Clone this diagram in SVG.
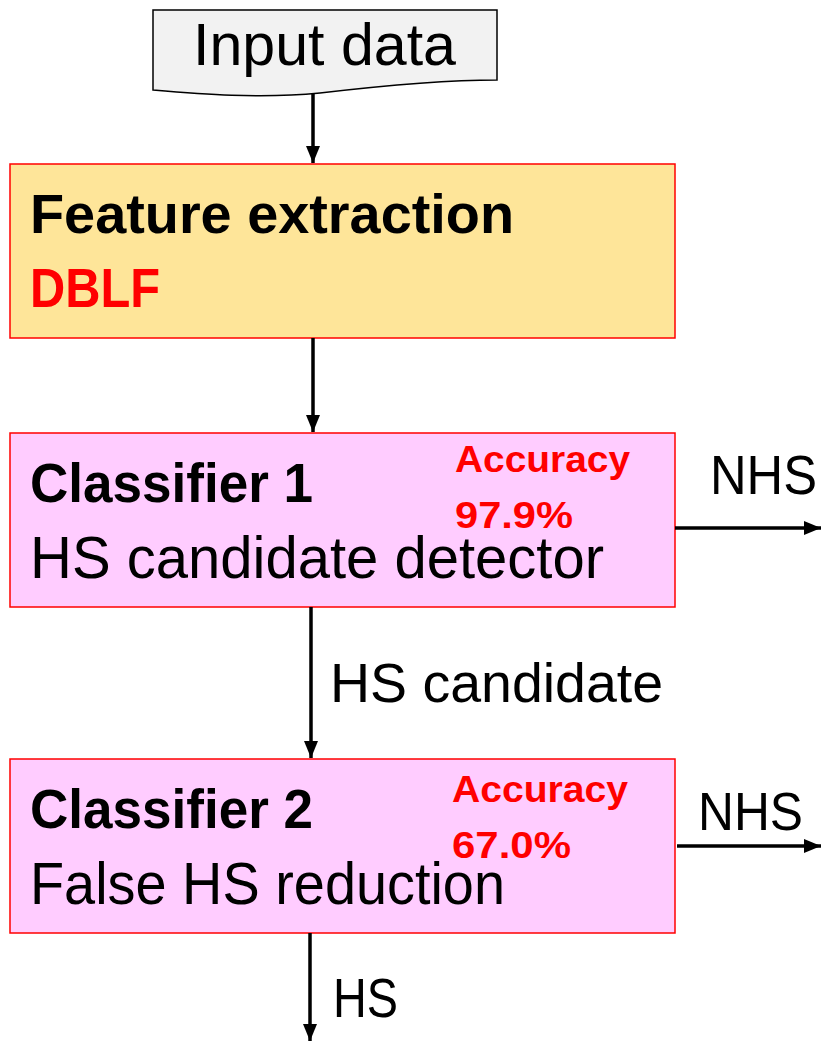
<svg xmlns="http://www.w3.org/2000/svg" width="821" height="1041" viewBox="0 0 821 1041">
<style>
.t{font-family:"Liberation Sans",Arial,sans-serif;fill:#000}
.b{font-weight:bold}
.red{fill:#ff0000}
.box{stroke:#ff0000;stroke-width:1.5}
.ln{stroke:#000;stroke-width:3.5;fill:none}
</style>
<defs>
<marker id="ah" markerWidth="18" markerHeight="16" refX="17" refY="8" orient="auto" markerUnits="userSpaceOnUse">
<path d="M0,1 L17,8 L0,15 Z" fill="#000"/>
</marker>
</defs>
<rect width="821" height="1041" fill="#fff"/>
<g id="input">
<path d="M153,10 L497,10 L497,80 C440,80 380,86 320,93 C260,99 200,94 153,90 Z" fill="#f2f2f2" stroke="#000" stroke-width="1.5"/>
<text class="t" x="193" y="65" font-size="59" textLength="263" lengthAdjust="spacingAndGlyphs">Input data</text>
</g>
<g id="feature">
<rect class="box" x="10" y="164" width="665" height="174" fill="#fee599"/>
<text class="t b" x="30" y="233" font-size="56" textLength="484" lengthAdjust="spacingAndGlyphs">Feature extraction</text>
<text class="t b red" x="30" y="307" font-size="56" textLength="130" lengthAdjust="spacingAndGlyphs">DBLF</text>
</g>
<g id="classifier1">
<rect class="box" x="10" y="433" width="665" height="174" fill="#ffccff"/>
<text class="t b" x="30" y="502" font-size="56" textLength="283" lengthAdjust="spacingAndGlyphs">Classifier 1</text>
<text class="t" x="30" y="578" font-size="59" textLength="574" lengthAdjust="spacingAndGlyphs">HS candidate detector</text>
<text class="t b red" x="455" y="472" font-size="37" textLength="175" lengthAdjust="spacingAndGlyphs">Accuracy</text>
<text class="t b red" x="455" y="528" font-size="37" textLength="118" lengthAdjust="spacingAndGlyphs">97.9%</text>
</g>
<g id="classifier2">
<rect class="box" x="10" y="759" width="665" height="174" fill="#ffccff"/>
<text class="t b" x="30" y="828" font-size="56" textLength="283" lengthAdjust="spacingAndGlyphs">Classifier 2</text>
<text class="t" x="30" y="904" font-size="59" textLength="475" lengthAdjust="spacingAndGlyphs">False HS reduction</text>
<text class="t b red" x="452" y="802" font-size="37" textLength="176" lengthAdjust="spacingAndGlyphs">Accuracy</text>
<text class="t b red" x="452" y="858" font-size="37" textLength="119" lengthAdjust="spacingAndGlyphs">67.0%</text>
</g>
<g id="connectors">
<line class="ln" x1="313" y1="94" x2="313" y2="163" marker-end="url(#ah)"/>
<line class="ln" x1="313" y1="338" x2="313" y2="432" marker-end="url(#ah)"/>
<line class="ln" x1="311" y1="607" x2="311" y2="758" marker-end="url(#ah)"/>
<line class="ln" x1="310" y1="933" x2="310" y2="1041" marker-end="url(#ah)"/>
<line class="ln" x1="675" y1="528" x2="821" y2="528" marker-end="url(#ah)"/>
<line class="ln" x1="677" y1="846" x2="821" y2="846" marker-end="url(#ah)"/>
<text class="t" x="710" y="494" font-size="55" textLength="107" lengthAdjust="spacingAndGlyphs">NHS</text>
<text class="t" x="698" y="830" font-size="54" textLength="105" lengthAdjust="spacingAndGlyphs">NHS</text>
<text class="t" x="330" y="702" font-size="55" textLength="333" lengthAdjust="spacingAndGlyphs">HS candidate</text>
<text class="t" x="333" y="1017" font-size="55" textLength="65" lengthAdjust="spacingAndGlyphs">HS</text>
</g>
</svg>
